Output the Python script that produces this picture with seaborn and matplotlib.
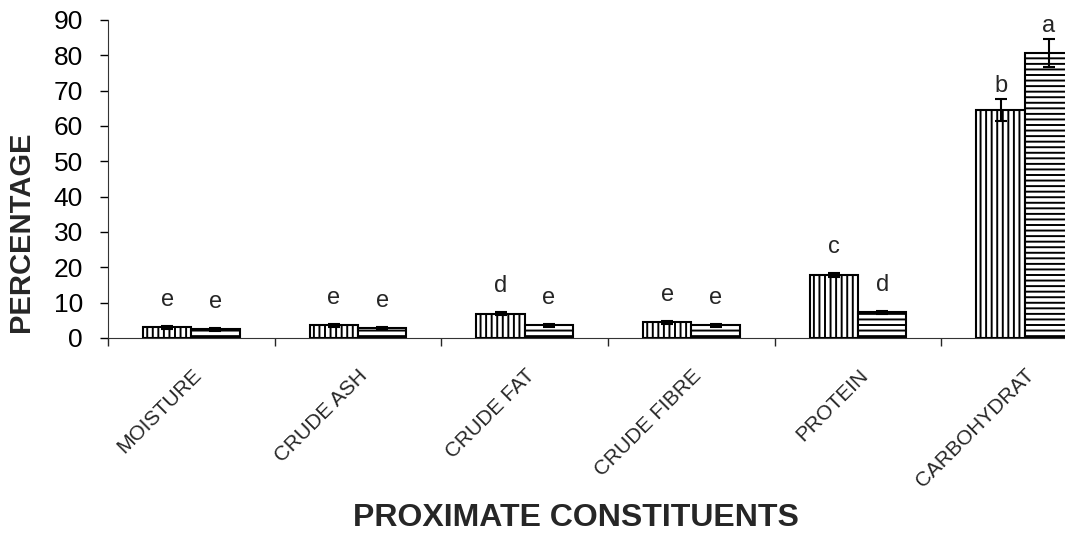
import numpy as np
import pandas as pd
import matplotlib
matplotlib.use('Agg')
import matplotlib.pyplot as plt
import seaborn as sns

categories = ['MOISTURE', 'CRUDE ASH', 'CRUDE FAT', 'CRUDE FIBRE', 'PROTEIN', 'CARBOHYDRAT']
samples = ['A', 'B']
values_a = [3.0, 3.6, 6.9, 4.4, 17.8, 64.5]
values_b = [2.4, 2.8, 3.6, 3.6, 7.2, 80.6]
err_a = [0.4, 0.4, 0.5, 0.4, 0.6, 3.2]
err_b = [0.3, 0.3, 0.4, 0.4, 0.5, 4.0]
letters_a = ['e', 'e', 'd', 'e', 'c', 'b']
letters_b = ['e', 'e', 'e', 'e', 'd', 'a']

df = pd.DataFrame({
    'Constituent': categories * 2,
    'Sample': ['A'] * 6 + ['B'] * 6,
    'Value': values_a + values_b,
})

sns.set_style('ticks')
plt.rcParams['font.family'] = ['Liberation Sans', 'DejaVu Sans']
plt.rcParams['hatch.linewidth'] = 1.4

fig = plt.figure(figsize=(10.65, 5.33), dpi=100)
ax = fig.add_axes([0.1014, 0.366, 0.939, 0.5966])

sns.barplot(data=df, x='Constituent', y='Value', hue='Sample', order=categories,
            hue_order=samples, width=0.58, errorbar=None, legend=False,
            palette=['white', 'white'], edgecolor='black', linewidth=1.5, ax=ax)

# hatch the two series, add error bars and letter labels
hatches = ['|||', '---']
errs = [err_a, err_b]
labs = [letters_a, letters_b]
vals = [values_a, values_b]
bar_groups = list(ax.containers)
for i, cont in enumerate(bar_groups):
    for j, bar in enumerate(cont):
        bar.set_hatch(hatches[i])
        bar.set_edgecolor('black')
        x = bar.get_x() + bar.get_width() / 2
        top = vals[i][j] + errs[i][j]
        ax.errorbar(x, vals[i][j], yerr=errs[i][j], color='black', capsize=4,
                    elinewidth=1.5, capthick=1.5, zorder=5)
        off = 4.3 if errs[i][j] < 1 else 0.5
        ax.text(x, top + off, labs[i][j], ha='center', va='bottom', fontsize=17)

ax.set_xlim(-0.5, 5.5)
ax.set_ylim(0, 90)
ax.set_yticks(range(0, 91, 10))
ax.tick_params(axis='y', labelsize=19, length=6, width=1, colors='black', pad=12)
ax.set_xticks(np.arange(-0.5, 5.5, 1), minor=False)
ax.set_xticklabels([])
ax.set_xticks(range(len(categories)), minor=True)
ax.set_xticklabels(categories, minor=True, rotation=45, ha='right', rotation_mode='anchor', fontsize=15)
ax.tick_params(axis='x', which='minor', length=0, pad=20)
ax.tick_params(axis='x', which='major', length=6, width=1)
sns.despine(ax=ax)
ax.spines['left'].set_color('#333333')
ax.spines['bottom'].set_color('#333333')

ax.set_ylabel('PERCENTAGE', fontsize=21, fontweight='bold')
ax.yaxis.set_label_coords(-0.073, 0.333)
ax.set_xlabel('PROXIMATE CONSTITUENTS', fontsize=23, fontweight='bold')
ax.xaxis.set_label_coords(0.468, -0.52)

fig.savefig('out.png', dpi=100)
